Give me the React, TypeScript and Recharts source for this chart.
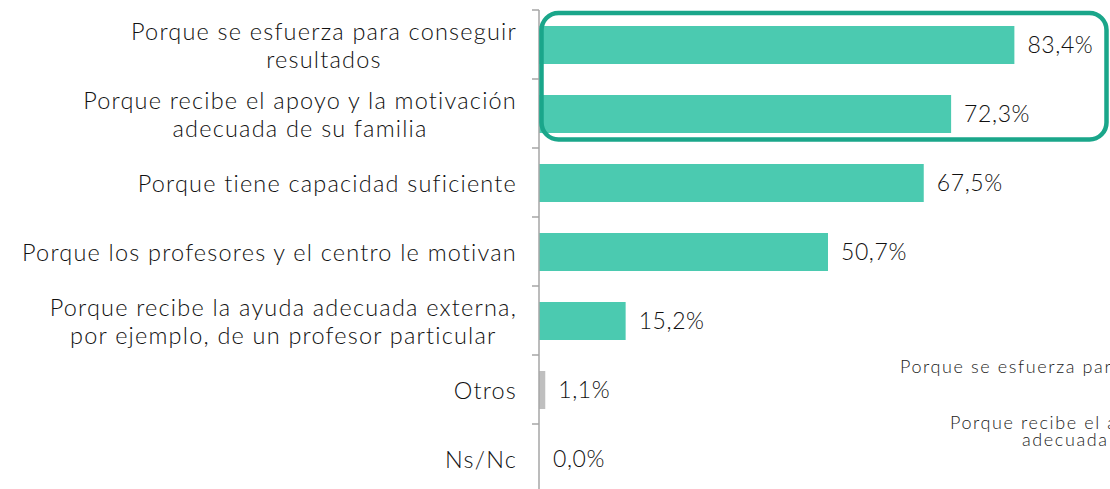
// Horizontal bar chart: motivos del buen rendimiento (porcentajes)

import { BarChart, Bar, XAxis, YAxis, LabelList, Cell, ReferenceArea } from 'recharts'

// ============================================
// Data
// ============================================

const CATEGORIES = [
  'Porque se esfuerza para conseguir\nresultados',
  'Porque recibe el apoyo y la motivación\nadecuada de su familia',
  'Porque tiene capacidad suficiente',
  'Porque los profesores y el centro le motivan',
  'Porque recibe la ayuda adecuada externa,\npor ejemplo, de un profesor particular',
  'Otros',
  'Ns/Nc',
]
const VALUES = [83.4, 72.3, 67.5, 50.7, 15.2, 1.1, 0.0]
const GREY_CATEGORIES = ['Otros']
const HIGHLIGHT_FROM = CATEGORIES[0]
const HIGHLIGHT_TO = CATEGORIES[1]

// texto recortado de otro gráfico que asoma por la derecha
const OVERFLOW_LINES = [
  'Porque se esfuerza para conseguir',
  'Porque recibe el apoyo y la motivación',
  'adecuada de su familia',
]

const data = CATEGORIES.map((name, i) => ({ name, value: VALUES[i] }))

// ============================================
// Styles
// ============================================

const FONT = 'Lato, "Noto Sans", sans-serif'
const TEAL = '#4bcab0'
const GREY = '#bfbfbf'
const FRAME = '#1aa68a'
const AXIS = '#a6a6a6'
const TEXT = '#111'

const fmt = (v: number) => `${v.toFixed(1).replace('.', ',')}%`

function CategoryTick(props: any) {
  const { x, y, payload, index } = props
  const half = payload?.offset && payload.offset < 60 ? payload.offset : 34.5
  const axisX = x + 22
  const isLast = index === CATEGORIES.length - 1
  return (
    <g>
      <line x1={axisX - 7} x2={axisX} y1={y - half} y2={y - half} stroke={AXIS} strokeWidth={1.5} />
      {isLast && (
        <line x1={axisX - 7} x2={axisX} y1={y + half} y2={y + half} stroke={AXIS} strokeWidth={1.5} />
      )}
      <foreignObject x={x - 520} y={y - half} width={520} height={half * 2}>
        <div
          style={{
            display: 'flex',
            justifyContent: 'flex-end',
            alignItems: 'center',
            height: '100%',
          }}
        >
          <div
            style={{
              textAlign: 'center',
              whiteSpace: 'pre-line',
              fontFamily: FONT,
              fontWeight: 300,
              fontSize: 23.5,
              letterSpacing: 1.2,
              lineHeight: '28px',
              color: TEXT,
            }}
          >
            {payload.value}
          </div>
        </div>
      </foreignObject>
    </g>
  )
}

function HighlightFrame(props: any) {
  const { x, y, width, height } = props
  return (
    <rect
      x={x + 2.5}
      y={y + 3}
      width={width - 5}
      height={height - 11.5}
      rx={17}
      fill="none"
      stroke={FRAME}
      strokeWidth={4.5}
    />
  )
}

const overflowStyle = {
  position: 'absolute' as const,
  whiteSpace: 'nowrap' as const,
  fontFamily: FONT,
  fontWeight: 300,
  fontSize: 18,
  letterSpacing: 1.6,
  lineHeight: '16px',
  color: '#222',
}

// ============================================
// Main Component
// ============================================

export default function App() {
  return (
    <div
      style={{
        position: 'fixed',
        left: 0,
        top: 0,
        width: 1110,
        height: 489,
        overflow: 'hidden',
        background: '#fff',
      }}
    >
      <BarChart
        width={1110}
        height={500}
        data={data}
        layout="vertical"
        margin={{ top: 10, right: 1, bottom: 7, left: 0 }}
      >
        <XAxis type="number" domain={[0, 100]} hide />
        <YAxis
          type="category"
          dataKey="name"
          width={539}
          interval={0}
          tickLine={false}
          tickSize={7}
          tickMargin={15}
          axisLine={{ stroke: AXIS, strokeWidth: 1.5 }}
          tick={<CategoryTick />}
        />
        <Bar
          dataKey="value"
          barSize={38}
          minPointSize={(v: number) => (v === 0 ? 1 : 0)}
          isAnimationActive={false}
        >
          {data.map(d => (
            <Cell
              key={d.name}
              fill={d.value === 0 ? 'transparent' : GREY_CATEGORIES.includes(d.name) ? GREY : TEAL}
            />
          ))}
          <LabelList
            dataKey="value"
            position="right"
            offset={13}
            formatter={(v: any) => fmt(Number(v))}
            fill={TEXT}
            fontSize={23}
            fontWeight={300}
            letterSpacing={0.6}
            fontFamily={FONT}
          />
        </Bar>
        <ReferenceArea
          y1={HIGHLIGHT_FROM}
          y2={HIGHLIGHT_TO}
          x1={0}
          x2={100}
          ifOverflow="visible"
          zIndex={1000}
          shape={<HighlightFrame />}
        />
      </BarChart>

      {/* Overflow labels */}
      <div style={{ ...overflowStyle, left: 900, top: 358 }}>{OVERFLOW_LINES[0]}</div>
      <div style={{ ...overflowStyle, left: 950, top: 414 }}>{OVERFLOW_LINES[1]}</div>
      <div style={{ ...overflowStyle, left: 1022, top: 431 }}>{OVERFLOW_LINES[2]}</div>
    </div>
  )
}
